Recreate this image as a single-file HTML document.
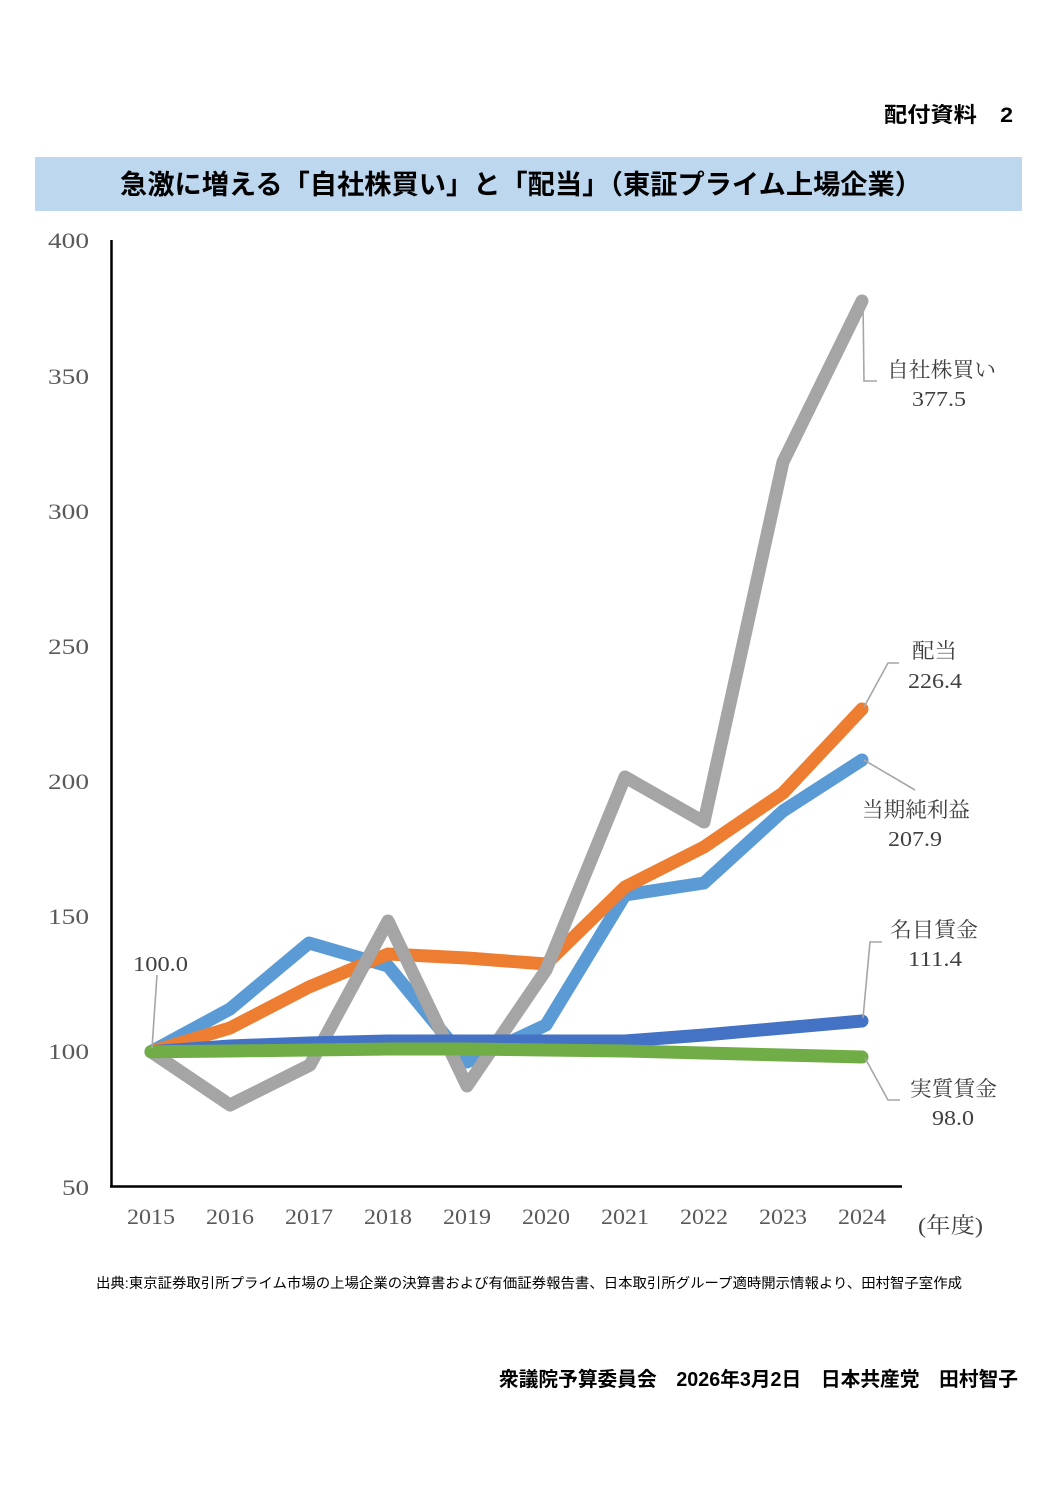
<!DOCTYPE html>
<html lang="ja">
<head>
<meta charset="utf-8">
<style>
  html, body { margin: 0; padding: 0; background: #ffffff; }
  body { width: 1058px; height: 1496px; overflow: hidden; }
  svg { display: block; }
  .g { font-family: "Liberation Sans", "Noto Sans CJK JP", sans-serif; font-weight: bold; fill: #000; }
  .s { font-family: "Liberation Serif", "Noto Serif CJK SC", serif; fill: #595959; }
  .d { font-family: "Liberation Serif", "Noto Serif CJK SC", serif; fill: #404040; }
  .src { font-family: "Liberation Sans", "Noto Sans CJK JP", sans-serif; fill: #000; }
</style>
</head>
<body>
<svg width="1058" height="1496" viewBox="0 0 1058 1496" xmlns="http://www.w3.org/2000/svg">
  <rect x="0" y="0" width="1058" height="1496" fill="#ffffff"/>

  <!-- header -->
  <text class="g" x="884" y="122" font-size="21" textLength="129" lengthAdjust="spacingAndGlyphs">配付資料　2</text>

  <!-- title band -->
  <rect x="35" y="157" width="987" height="54" fill="#BDD7EE"/>
  <text class="g" x="120" y="194" font-size="27" textLength="802" lengthAdjust="spacingAndGlyphs">急激に増える「自社株買い」と「配当」（東証プライム上場企業）</text>

  <!-- axes -->
  <line x1="111.5" y1="240" x2="111.5" y2="1187" stroke="#000" stroke-width="2.5"/>
  <line x1="110" y1="1186.5" x2="902" y2="1186.5" stroke="#000" stroke-width="2.5"/>

  <!-- y tick labels -->
  <g class="s" font-size="22">
    <text x="48" y="248" textLength="41" lengthAdjust="spacingAndGlyphs">400</text>
    <text x="48" y="384" textLength="41" lengthAdjust="spacingAndGlyphs">350</text>
    <text x="48" y="519" textLength="41" lengthAdjust="spacingAndGlyphs">300</text>
    <text x="48" y="654" textLength="41" lengthAdjust="spacingAndGlyphs">250</text>
    <text x="48" y="789" textLength="41" lengthAdjust="spacingAndGlyphs">200</text>
    <text x="48" y="924" textLength="41" lengthAdjust="spacingAndGlyphs">150</text>
    <text x="48" y="1059" textLength="41" lengthAdjust="spacingAndGlyphs">100</text>
    <text x="62" y="1195" textLength="27" lengthAdjust="spacingAndGlyphs">50</text>
  </g>

  <!-- x tick labels -->
  <g class="s" font-size="22">
    <text x="127" y="1224" textLength="48" lengthAdjust="spacingAndGlyphs">2015</text>
    <text x="206" y="1224" textLength="48" lengthAdjust="spacingAndGlyphs">2016</text>
    <text x="285" y="1224" textLength="48" lengthAdjust="spacingAndGlyphs">2017</text>
    <text x="364" y="1224" textLength="48" lengthAdjust="spacingAndGlyphs">2018</text>
    <text x="443" y="1224" textLength="48" lengthAdjust="spacingAndGlyphs">2019</text>
    <text x="522" y="1224" textLength="48" lengthAdjust="spacingAndGlyphs">2020</text>
    <text x="601" y="1224" textLength="48" lengthAdjust="spacingAndGlyphs">2021</text>
    <text x="680" y="1224" textLength="48" lengthAdjust="spacingAndGlyphs">2022</text>
    <text x="759" y="1224" textLength="48" lengthAdjust="spacingAndGlyphs">2023</text>
    <text x="838" y="1224" textLength="48" lengthAdjust="spacingAndGlyphs">2024</text>
    <text x="918" y="1233" textLength="65" lengthAdjust="spacingAndGlyphs" fill="#404040">(年度)</text>
  </g>

  <!-- series -->
  <g fill="none" stroke-width="13" stroke-linejoin="round" stroke-linecap="round">
    <!-- 当期純利益 -->
    <polyline stroke="#5B9BD5" points="151,1051.7 230,1009 309,943 388,966 467,1062 546,1025 625,895 704,883 783,811 862,760"/>
    <!-- 配当 -->
    <polyline stroke="#ED7D31" points="151,1051.7 230,1028 309,987 388,954 467,958 546,964 625,887 704,847 783,793 862,709"/>
    <!-- 自社株買い -->
    <polyline stroke="#A5A5A5" points="151,1051.7 230,1105 310,1065 388,921 467,1086 546,970 625,777 704,822 783,462 862,301"/>
    <!-- 名目賃金 -->
    <polyline stroke="#4472C4" points="151,1051.7 230,1046 309,1043 388,1041 467,1041 546,1041 625,1041 704,1035 783,1028 862,1021"/>
    <!-- 実質賃金 -->
    <polyline stroke="#70AD47" points="151,1051.7 230,1051 309,1050 388,1049 467,1049 546,1050 625,1051 704,1053 783,1055 862,1057"/>
  </g>

  <!-- leader lines -->
  <g fill="none" stroke="#A6A6A6" stroke-width="1.6">
    <polyline points="157,975 152,1048"/>
    <polyline points="863,303 864,381 877,381"/>
    <polyline points="864,707 888,663 899,663"/>
    <polyline points="864,760 915,790"/>
    <polyline points="863,1018 870,942 882,942"/>
    <polyline points="865,1058 888,1100 900,1100"/>
  </g>

  <!-- data labels -->
  <g class="d" font-size="21">
    <text x="133" y="971" textLength="55" lengthAdjust="spacingAndGlyphs">100.0</text>

    <text x="887" y="377" textLength="109" lengthAdjust="spacingAndGlyphs">自社株買い</text>
    <text x="912" y="406" textLength="54" lengthAdjust="spacingAndGlyphs">377.5</text>

    <text x="912" y="658" textLength="45" lengthAdjust="spacingAndGlyphs">配当</text>
    <text x="908" y="688" textLength="54" lengthAdjust="spacingAndGlyphs">226.4</text>

    <text x="862" y="817" textLength="108" lengthAdjust="spacingAndGlyphs">当期純利益</text>
    <text x="888" y="846" textLength="54" lengthAdjust="spacingAndGlyphs">207.9</text>

    <text x="890" y="937" textLength="88" lengthAdjust="spacingAndGlyphs">名目賃金</text>
    <text x="908" y="966" textLength="54" lengthAdjust="spacingAndGlyphs">111.4</text>

    <text x="910" y="1096" textLength="87" lengthAdjust="spacingAndGlyphs">実質賃金</text>
    <text x="932" y="1125" textLength="42" lengthAdjust="spacingAndGlyphs">98.0</text>
  </g>

  <!-- source -->
  <text class="src" x="96" y="1288" font-size="14" textLength="866" lengthAdjust="spacingAndGlyphs">出典:東京証券取引所プライム市場の上場企業の決算書および有価証券報告書、日本取引所グループ適時開示情報より、田村智子室作成</text>

  <!-- footer -->
  <text class="g" x="499" y="1386" font-size="20" textLength="519" lengthAdjust="spacingAndGlyphs">衆議院予算委員会　2026年3月2日　日本共産党　田村智子</text>
</svg>
</body>
</html>
